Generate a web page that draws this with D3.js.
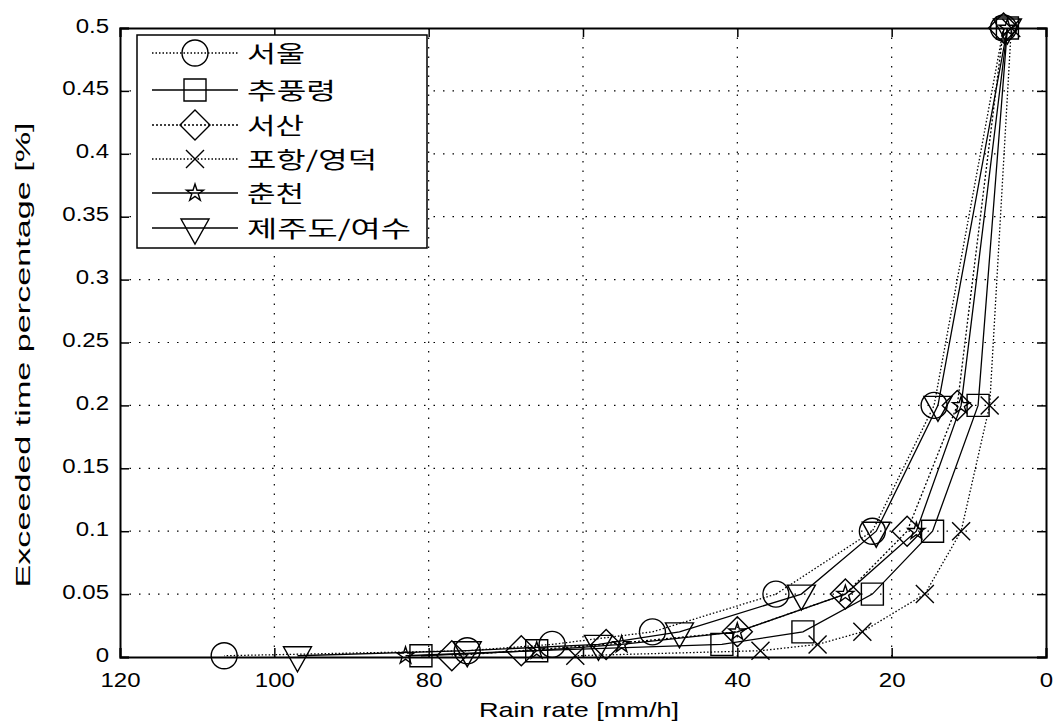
<!DOCTYPE html>
<html>
<head>
<meta charset="utf-8">
<script src="https://cdn.jsdelivr.net/npm/d3@7"></script>
<style>
  body { margin: 0; background: #fff; }
  text { font-family: "Liberation Sans", Arial, sans-serif; fill: #000; }
  .kr { font-family: "Noto Sans CJK KR", "Noto Sans", sans-serif; }
</style>
</head>
<body>
<svg id="chart" width="1053" height="725"></svg>
<script>
// Exceedance time percentages at which each station's rain rate is given
const percentages = [0.5, 0.2, 0.1, 0.05, 0.02, 0.01, 0.005, 0.001];

// Rain rate [mm/h] per station, one value per percentage above
const seoul         = [5.5, 14.5, 22.5, 35.0, 51.0, 64.0, 75.0, 106.5];
const chupungnyeong = [5.0, 8.8, 14.7, 22.5, 31.5, 42.0, 66.0, 81.0];
const seosan        = [5.5, 11.5, 18.0, 26.0, 40.0, 57.0, 68.0, 77.0];
const pohang        = [4.5, 7.3, 11.0, 15.7, 23.8, 29.6, 37.0, 61.0];
const chuncheon     = [5.0, 11.0, 16.8, 26.0, 40.0, 55.0, 66.0, 83.0];
const jeju          = [5.0, 14.0, 22.0, 31.7, 47.5, 58.0, 75.0, 97.0];

const seriesNames = ["서울", "추풍령", "서산", "포항/영덕", "춘천", "제주도/여수"];

const xTicks = [120, 100, 80, 60, 40, 20, 0];
const yTicks = [0, 0.05, 0.1, 0.15, 0.2, 0.25, 0.3, 0.35, 0.4, 0.45, 0.5];
const yTickLabels = ["0", "0.05", "0.1", "0.15", "0.2", "0.25", "0.3", "0.35", "0.4", "0.45", "0.5"];

const series = [
  { name: seriesNames[0], values: seoul,         marker: "circle",   dash: "1.5,2" },
  { name: seriesNames[1], values: chupungnyeong, marker: "square",   dash: null },
  { name: seriesNames[2], values: seosan,        marker: "diamond",  dash: "2,2" },
  { name: seriesNames[3], values: pohang,        marker: "times",    dash: "1.5,2" },
  { name: seriesNames[4], values: chuncheon,     marker: "star",     dash: null },
  { name: seriesNames[5], values: jeju,          marker: "triangle", dash: null }
];

const svg = d3.select("#chart");
const plot = { left: 120, right: 1046, top: 28, bottom: 657 };

const x = d3.scaleLinear().domain([120, 0]).range([plot.left, plot.right]);
const y = d3.scaleLinear().domain([0, 0.5]).range([plot.bottom, plot.top]);

// Marker path generators (hollow, MATLAB-like)
function markerPath(type) {
  switch (type) {
    case "circle": {
      const r = 13;
      return `M${-r},0A${r},${r} 0 1,0 ${r},0A${r},${r} 0 1,0 ${-r},0Z`;
    }
    case "square": {
      const h = 11;
      return `M${-h},${-h}H${h}V${h}H${-h}Z`;
    }
    case "diamond": {
      const r = 15;
      return `M0,${-r}L${r},0L0,${r}L${-r},0Z`;
    }
    case "triangle": {
      const w = 14, top = -9, bot = 16;
      return `M${-w},${top}L${w},${top}L0,${bot}Z`;
    }
    case "times": {
      const a = 9;
      return `M${-a},${-a}L${a},${a}M${-a},${a}L${a},${-a}`;
    }
    case "star":
      return d3.symbol(d3.symbolStar, 90)();
  }
}

// Widen a text horizontally by a factor, keeping its anchor
function widen(sel, k) {
  sel.each(function () {
    const w = this.getComputedTextLength();
    d3.select(this).attr("textLength", w * k).attr("lengthAdjust", "spacingAndGlyphs");
  });
}

// Grid (dotted)
const grid = svg.append("g").attr("stroke", "#000").attr("stroke-width", 1.2)
  .attr("stroke-dasharray", "1.5,8");
grid.selectAll(".gx").data(xTicks.filter(t => t !== 120 && t !== 0)).join("line")
  .attr("x1", d => x(d)).attr("x2", d => x(d))
  .attr("y1", plot.top).attr("y2", plot.bottom);
grid.selectAll(".gy").data(yTicks.filter(t => t !== 0 && t !== 0.5)).join("line")
  .attr("x1", plot.left).attr("x2", plot.right)
  .attr("y1", d => y(d)).attr("y2", d => y(d));

// Axes with inward ticks on all four sides
const tickLen = 9;
const xAxisB = d3.axisBottom(x).tickValues(xTicks).tickSize(-tickLen).tickPadding(12)
  .tickFormat(d3.format("d"));
const xAxisT = d3.axisTop(x).tickValues(xTicks).tickSize(-tickLen).tickFormat("");
const yAxisL = d3.axisLeft(y).tickValues(yTicks).tickSize(-tickLen).tickPadding(11)
  .tickFormat((d, i) => yTickLabels[i]);
const yAxisR = d3.axisRight(y).tickValues(yTicks).tickSize(-tickLen).tickFormat("");

function styleAxis(g) {
  g.select(".domain").attr("stroke", "#000").attr("stroke-width", 2);
  g.selectAll(".tick line").attr("stroke", "#000").attr("stroke-width", 1.5);
  g.selectAll(".tick text").attr("font-size", 20)
    .attr("font-family", "'Liberation Sans', Arial, sans-serif").attr("fill", "#000");
}

svg.append("g").attr("transform", `translate(0,${plot.bottom})`).call(xAxisB).call(styleAxis)
  .selectAll(".tick text").attr("dy", "0.9em").call(widen, 1.2);
svg.append("g").attr("transform", `translate(0,${plot.top})`).call(xAxisT).call(styleAxis);
svg.append("g").attr("transform", `translate(${plot.left},0)`).call(yAxisL).call(styleAxis)
  .selectAll(".tick text").attr("dy", "0.2em").call(widen, 1.2);
svg.append("g").attr("transform", `translate(${plot.right},0)`).call(yAxisR).call(styleAxis);

// Curves and markers
const line = d3.line().x(d => x(d[0])).y(d => y(d[1]));
const curves = svg.append("g");
series.forEach(s => {
  const pts = s.values.map((v, i) => [v, percentages[i]]);
  const g = curves.append("g");
  g.append("path").datum(pts).attr("d", line)
    .attr("fill", "none").attr("stroke", "#000").attr("stroke-width", 1.3)
    .attr("stroke-dasharray", s.dash);
  g.selectAll("path.m").data(pts).join("path").attr("class", "m")
    .attr("transform", d => `translate(${x(d[0])},${y(d[1])})`)
    .attr("d", markerPath(s.marker))
    .attr("fill", "none").attr("stroke", "#000").attr("stroke-width", 1.4);
});

// Axis titles
svg.append("text").attr("x", 579).attr("y", 717).attr("text-anchor", "middle")
  .attr("font-size", 21).attr("textLength", 200).attr("lengthAdjust", "spacingAndGlyphs")
  .text("Rain rate [mm/h]");
svg.append("text").attr("transform", "translate(30,355) rotate(-90)")
  .attr("text-anchor", "middle").attr("font-size", 20)
  .attr("textLength", 465).attr("lengthAdjust", "spacingAndGlyphs")
  .text("Exceeded time percentage [%]");

// Legend
const lg = svg.append("g");
lg.append("rect").attr("x", 137).attr("y", 35).attr("width", 290).attr("height", 213)
  .attr("fill", "#fff").attr("stroke", "#000").attr("stroke-width", 1.5);
const rowY = [53, 90, 125, 159, 193, 228];
const labelWidths = [58, 89, 57, 130, 57, 164];
series.forEach((s, i) => {
  const yy = rowY[i];
  lg.append("line").attr("x1", 152).attr("x2", 238).attr("y1", yy).attr("y2", yy)
    .attr("stroke", "#000").attr("stroke-width", 1.3).attr("stroke-dasharray", s.dash);
  lg.append("path").attr("transform", `translate(195,${yy})`).attr("d", markerPath(s.marker))
    .attr("fill", "none").attr("stroke", "#000").attr("stroke-width", 1.4);
  lg.append("text").attr("class", "kr").attr("x", 247).attr("y", yy + 9)
    .attr("font-size", 23)
    .attr("textLength", labelWidths[i]).attr("lengthAdjust", "spacingAndGlyphs")
    .text(s.name);
});
</script>
</body>
</html>
